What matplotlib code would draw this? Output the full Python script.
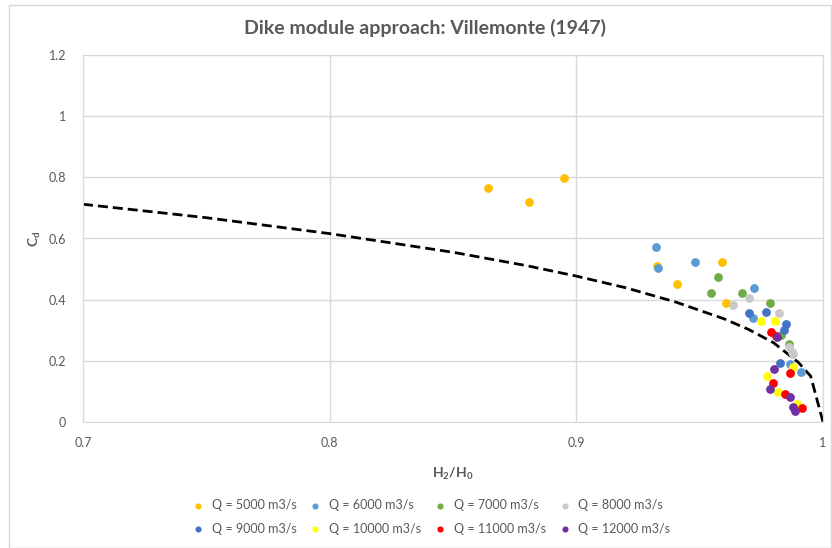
import matplotlib
matplotlib.use("Agg")
import matplotlib.pyplot as plt
from matplotlib.patches import Rectangle

plt.rcParams['font.family'] = ['Lato', 'DejaVu Sans']
plt.rcParams['mathtext.fontset'] = 'custom'
plt.rcParams['mathtext.rm'] = 'Lato'
plt.rcParams['mathtext.bf'] = 'Lato:bold'

# Villemonte curve
curve_x = [0.70, 0.75, 0.80, 0.85, 0.88, 0.90, 0.92, 0.94, 0.96, 0.97, 0.98, 0.99, 0.995, 1.0]
curve_y = [0.712, 0.668, 0.616, 0.555, 0.511, 0.477, 0.439, 0.393, 0.337, 0.302, 0.259, 0.195, 0.15, 0.0]

labels = ["Q = 5000 m3/s", "Q = 6000 m3/s", "Q = 7000 m3/s", "Q = 8000 m3/s",
          "Q = 9000 m3/s", "Q = 10000 m3/s", "Q = 11000 m3/s", "Q = 12000 m3/s"]
colors = ["#FFC000", "#5B9BD5", "#70AD47", "#C9C9C9",
          "#4472C4", "#FFFF00", "#FF0000", "#7030A0"]

q5000_x = [0.864, 0.881, 0.895, 0.9325, 0.959, 0.941, 0.9606]
q5000_y = [0.766, 0.719, 0.798, 0.510, 0.523, 0.451, 0.388]
q6000_x = [0.9323, 0.9333, 0.948, 0.972, 0.9717, 0.9866, 0.991]
q6000_y = [0.573, 0.503, 0.523, 0.439, 0.339, 0.190, 0.165]
q7000_x = [0.9575, 0.9544, 0.967, 0.9785, 0.983, 0.9863]
q7000_y = [0.475, 0.421, 0.421, 0.388, 0.284, 0.255]
q8000_x = [0.9636, 0.970, 0.982, 0.9863, 0.9873, 0.988]
q8000_y = [0.383, 0.404, 0.357, 0.244, 0.230, 0.222]
q9000_x = [0.970, 0.9767, 0.985, 0.9843, 0.9825]
q9000_y = [0.355, 0.361, 0.320, 0.301, 0.192]
q10000_x = [0.9748, 0.9805, 0.9877, 0.9774, 0.9818, 0.9895]
q10000_y = [0.330, 0.331, 0.181, 0.150, 0.099, 0.059]
q11000_x = [0.9788, 0.981, 0.9866, 0.9796, 0.9846, 0.9913]
q11000_y = [0.295, 0.281, 0.159, 0.129, 0.092, 0.045]
q12000_x = [0.9815, 0.9801, 0.9785, 0.9868, 0.9879, 0.9886]
q12000_y = [0.277, 0.172, 0.107, 0.083, 0.050, 0.036]

series = [(q5000_x, q5000_y), (q6000_x, q6000_y), (q7000_x, q7000_y), (q8000_x, q8000_y),
          (q9000_x, q9000_y), (q10000_x, q10000_y), (q11000_x, q11000_y), (q12000_x, q12000_y)]

txt = "#595959"
grid = "#d9d9d9"

fig = plt.figure(figsize=(8.32, 5.48), dpi=100)
fig.patches.append(Rectangle((9/832, 0.0), 822/832, 543/548, transform=fig.transFigure,
                             fill=False, edgecolor=grid, linewidth=1))
ax = fig.add_axes([83/832, 126/548, 740/832, 367/548])

ax.plot(curve_x, curve_y, color="black", lw=2, linestyle=(0, (3.6, 1.8)), zorder=2)

handles = []
for (xs, ys), c, lab in zip(series, colors, labels):
    h = ax.scatter(xs, ys, s=40, color=c, label=lab, zorder=3, linewidths=0)
    handles.append(h)

ax.set_xlim(0.7, 1.0)
ax.set_ylim(0, 1.2)
ax.set_xticks([0.7, 0.8, 0.9, 1.0])
ax.set_xticklabels(["0.7", "0.8", "0.9", "1"])
ax.set_yticks([0, 0.2, 0.4, 0.6, 0.8, 1.0, 1.2])
ax.set_yticklabels(["0", "0.2", "0.4", "0.6", "0.8", "1", "1.2"])
ax.tick_params(length=0, labelsize=9, labelcolor=txt)
ax.tick_params(axis="x", pad=11)
ax.tick_params(axis="y", pad=12)
ax.grid(True, color=grid, lw=1)
ax.set_axisbelow(True)
for s in ax.spines.values():
    s.set_color(grid)

ax.set_xlabel(r"$\mathbf{H_2/H_0}$", fontsize=10, color=txt, labelpad=12)
ax.set_ylabel(r"$\mathbf{C_d}$", fontsize=10, color=txt, labelpad=4)
fig.text(425/832, 1 - 28/548, "Dike module approach: Villemonte (1947)",
         ha="center", va="center", fontsize=14, color=txt, fontweight="bold")

# matplotlib fills legend columns first, so reorder to get row-wise order
order = [0, 4, 1, 5, 2, 6, 3, 7]
fig.legend([handles[i] for i in order], [labels[i] for i in order],
           loc="center", bbox_to_anchor=(428/832, 1 - 517/548), ncol=4, frameon=False,
           fontsize=9, labelcolor=txt, handletextpad=0.1, columnspacing=0.5,
           markerscale=0.7, borderpad=0, labelspacing=0.9)

fig.savefig("out.png", dpi=100)
